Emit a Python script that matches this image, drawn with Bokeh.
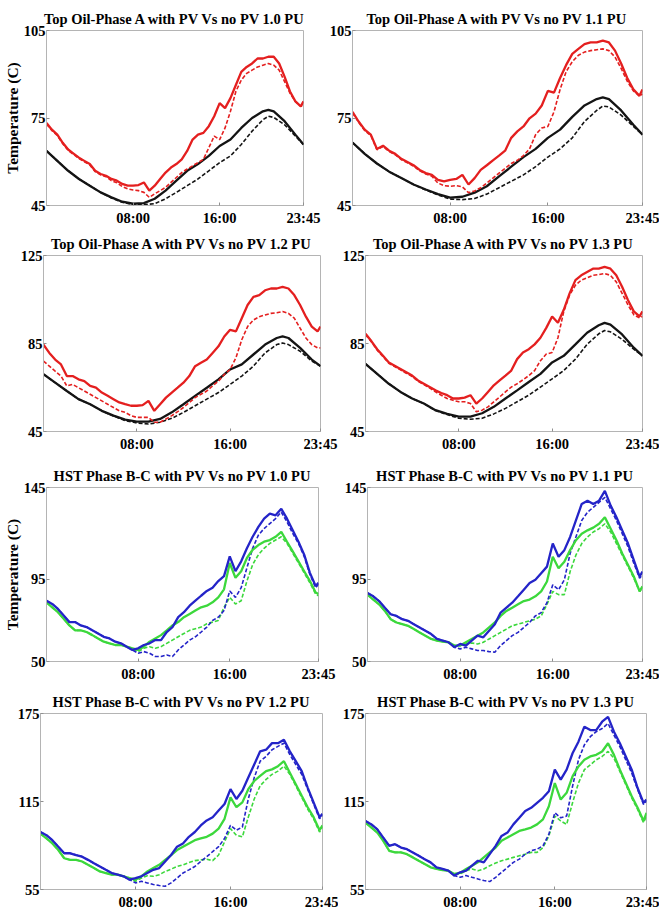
from bokeh.plotting import figure
from bokeh.layouts import column, row
from bokeh.models import Range1d, FixedTicker
from bokeh.embed import file_html
from bokeh.resources import INLINE

# ---------------- data ----------------
t_half = [i * 0.5 for i in range(48)] + [23.75]          # hours, 30-min readings
t_black = list(range(21)) + [20.5, 21, 22, 23, 23.75]     # hours, black (smooth) curves

x_ticks = [8, 16, 23.75]
x_tick_labels = ["08:00", "16:00", "23:45"]

titles = [
    "Top Oil-Phase A with PV Vs no PV 1.0 PU",
    "Top Oil-Phase A with PV Vs no PV 1.1 PU",
    "Top Oil-Phase A with PV Vs no PV 1.2 PU",
    "Top Oil-Phase A with PV Vs no PV 1.3 PU",
    "HST Phase B-C with PV Vs no PV 1.0 PU",
    "HST Phase B-C with PV Vs no PV 1.1 PU",
    "HST Phase B-C with PV Vs no PV 1.2 PU",
    "HST Phase B-C with PV Vs no PV 1.3 PU",
]
y_ticks = [
    [45, 75, 105], [45, 75, 105],
    [45, 85, 125], [45, 85, 125],
    [50, 95, 145], [50, 95, 145],
    [55, 115, 175], [55, 115, 175],
]
y_label = "Temperature (C)"

# Top oil, phase A -- red (30-min readings)
red_solid_10 = [73.3, 71.0, 69.3, 66.5, 64.2, 62.8, 61.4, 60.3, 59.2, 56.9,
                55.8, 55.2, 54.1, 53.5, 52.4, 51.8, 51.8, 52.0, 52.9, 50.1,
                51.8, 54.1, 56.3, 58.0, 59.2, 60.8, 63.7, 67.6, 69.3, 69.9,
                72.2, 75.6, 80.1, 78.4, 81.8, 86.3, 90.8, 92.5, 93.7, 95.4,
                95.4, 96.0, 96.0, 93.7, 89.2, 84.1, 80.7, 79.0, 80.7]
red_dash_10 = [73.0, 70.7, 69.0, 66.2, 63.9, 62.5, 61.1, 60.0, 58.9, 56.6,
               55.5, 54.9, 53.5, 52.8, 51.5, 50.7, 50.3, 50.1, 49.5, 47.8,
               49.0, 50.1, 51.2, 52.9, 54.6, 56.3, 57.5, 58.6, 59.7, 60.8,
               64.8, 68.8, 67.6, 71.6, 77.3, 84.1, 88.0, 90.3, 91.4, 92.5,
               93.1, 93.7, 93.1, 91.4, 87.5, 83.5, 80.7, 79.0, 79.6]
red_solid_11 = [77.1, 73.8, 71.0, 69.3, 64.4, 65.5, 63.8, 62.7, 61.0, 59.9,
                58.8, 57.2, 56.1, 55.5, 53.8, 53.3, 53.8, 54.1, 55.5, 52.2,
                54.4, 57.2, 58.8, 60.5, 62.1, 63.8, 68.2, 70.4, 72.1, 74.9,
                76.5, 79.3, 84.3, 83.7, 88.7, 93.2, 97.0, 98.7, 100.3, 100.9,
                100.9, 101.5, 100.9, 98.1, 93.7, 88.7, 84.8, 82.6, 84.8]
red_dash_11 = [76.8, 73.5, 70.7, 69.0, 64.1, 65.2, 63.5, 62.4, 60.7, 59.6,
               58.5, 56.9, 55.8, 55.0, 52.7, 51.8, 51.6, 51.8, 51.4, 49.4,
               50.0, 51.1, 52.7, 54.4, 56.1, 57.7, 59.4, 60.5, 62.1, 64.4,
               69.3, 71.6, 72.1, 77.1, 84.8, 90.9, 94.3, 96.5, 97.6, 98.1,
               98.4, 98.7, 98.1, 95.9, 92.0, 87.6, 84.3, 82.6, 83.2]
red_solid_12 = [84.5, 80.7, 77.7, 75.5, 70.2, 70.2, 68.7, 67.9, 65.7, 64.9,
                62.7, 61.2, 59.7, 58.2, 57.4, 56.7, 56.7, 57.0, 58.9, 54.4,
                57.4, 60.4, 62.7, 64.9, 67.2, 70.2, 74.7, 76.2, 77.7, 80.7,
                83.7, 88.2, 91.2, 90.5, 96.5, 102.5, 106.2, 107.0, 109.2, 110.0,
                110.0, 110.7, 110.0, 107.0, 102.5, 97.2, 92.7, 90.5, 92.7]
red_dash_12 = [77.0, 74.7, 72.4, 70.2, 65.7, 66.4, 64.9, 63.4, 61.9, 60.4,
               58.9, 57.4, 55.9, 54.4, 53.7, 52.2, 51.4, 51.4, 51.4, 49.2,
               49.2, 50.7, 52.2, 54.0, 55.9, 58.2, 60.4, 61.9, 63.4, 65.7,
               67.9, 70.9, 73.2, 78.5, 86.7, 92.7, 95.7, 97.2, 98.0, 98.7,
               99.0, 99.5, 98.7, 96.5, 92.0, 87.5, 84.5, 83.0, 83.0]
red_solid_13 = [89.4, 86.1, 82.4, 79.4, 76.4, 74.9, 73.4, 71.9, 70.4, 68.2,
                66.7, 65.2, 63.7, 62.5, 61.5, 60.0, 60.0, 60.4, 61.5, 57.7,
                60.0, 63.0, 66.0, 68.2, 70.4, 72.7, 77.9, 80.9, 82.4, 84.6,
                87.6, 92.1, 97.3, 94.4, 100.3, 107.8, 113.8, 116.0, 117.5, 119.0,
                119.0, 119.8, 119.0, 116.0, 110.8, 104.8, 99.6, 97.3, 99.6]
red_dash_13 = [89.0, 85.8, 82.0, 79.0, 76.0, 74.5, 73.0, 71.5, 70.0, 67.8,
               66.3, 64.8, 63.0, 61.5, 60.0, 59.2, 58.5, 58.5, 57.7, 54.0,
               54.7, 56.2, 58.5, 60.7, 63.0, 65.2, 66.7, 68.5, 70.4, 72.7,
               77.2, 80.2, 80.9, 87.6, 99.6, 107.0, 111.5, 113.8, 114.8, 116.0,
               116.3, 116.8, 116.0, 113.0, 107.8, 102.6, 98.1, 96.6, 97.3]

# Top oil, phase A -- black (hourly readings)
black_solid_10 = [63.7, 60.3, 56.9, 54.1, 51.8, 49.5, 47.8, 46.3, 45.6, 45.8,
                  47.3, 50.1, 53.5, 56.9, 59.2, 62.0, 65.4, 67.6, 71.6, 75.0,
                  77.3, 77.8, 77.3, 73.9, 69.3, 65.9]
black_dash_10 = [63.7, 60.3, 56.9, 54.1, 51.8, 49.5, 47.6, 46.1, 45.3, 45.3,
                 45.6, 47.3, 49.5, 51.8, 54.1, 56.9, 59.7, 62.0, 65.9, 70.5,
                 74.4, 75.6, 75.2, 72.7, 68.8, 65.9]
black_solid_11 = [66.6, 62.7, 59.4, 56.6, 54.4, 52.2, 50.5, 48.9, 47.7, 48.0,
                  49.4, 51.6, 55.0, 58.3, 61.6, 64.4, 68.2, 71.0, 75.4, 79.3,
                  81.5, 82.1, 81.5, 77.6, 72.7, 69.3]
black_dash_11 = [66.6, 62.7, 59.4, 56.6, 54.4, 52.2, 50.3, 48.6, 47.2, 47.0,
                 47.4, 48.9, 51.1, 53.3, 55.5, 58.3, 61.6, 64.4, 68.2, 73.8,
                 77.6, 79.1, 78.8, 76.0, 72.1, 69.3]
black_solid_12 = [71.0, 67.2, 63.4, 59.7, 57.4, 54.4, 52.2, 50.4, 49.5, 49.5,
                  50.7, 53.7, 57.4, 61.2, 64.9, 68.7, 73.2, 75.5, 80.0, 84.5,
                  87.5, 88.2, 87.5, 83.0, 77.7, 74.7]
black_dash_12 = [71.0, 67.2, 63.4, 59.7, 57.4, 54.4, 52.0, 50.0, 48.9, 48.4,
                 49.2, 51.0, 53.7, 56.7, 59.7, 62.7, 66.4, 70.2, 74.7, 80.7,
                 84.5, 85.2, 84.5, 81.5, 77.0, 74.7]
black_solid_13 = [75.7, 71.2, 66.7, 63.0, 60.0, 57.7, 54.7, 53.0, 51.8, 51.8,
                  53.3, 56.2, 60.0, 63.7, 67.5, 71.2, 76.4, 79.4, 84.6, 89.9,
                  93.3, 94.4, 93.6, 89.1, 83.1, 79.4]
black_dash_13 = [75.7, 71.2, 66.7, 63.0, 60.0, 57.7, 54.5, 52.7, 51.0, 50.6,
                 51.0, 53.0, 55.5, 58.5, 61.5, 65.2, 68.9, 72.7, 77.9, 84.6,
                 89.4, 90.9, 90.3, 86.9, 82.4, 79.4]

# Hot-spot temperature, phase B-C (30-min readings)
blue_solid_10 = [83.2, 81.4, 78.7, 75.1, 71.5, 71.5, 69.7, 68.8, 67.0, 65.3,
                 63.5, 62.6, 60.8, 59.9, 58.1, 56.3, 57.2, 59.0, 59.9, 61.7,
                 61.7, 66.1, 68.8, 74.2, 76.9, 80.5, 83.2, 85.9, 88.5, 90.3,
                 93.9, 96.6, 107.4, 99.3, 104.7, 111.8, 118.1, 123.5, 128.0, 130.7,
                 129.8, 133.4, 128.0, 121.7, 115.4, 108.3, 98.4, 91.2, 93.0]
blue_dash_10 = [83.2, 81.4, 78.7, 75.1, 71.5, 71.5, 69.7, 68.8, 67.0, 65.3,
                63.5, 62.6, 60.8, 59.9, 58.1, 56.3, 54.5, 55.4, 54.5, 52.7,
                52.7, 53.6, 52.7, 56.3, 59.0, 61.7, 63.5, 66.1, 68.8, 72.4,
                74.2, 77.8, 88.5, 85.0, 90.3, 101.1, 111.8, 119.0, 122.6, 125.3,
                128.0, 131.6, 126.2, 119.9, 114.5, 107.4, 97.5, 90.3, 92.1]
green_solid_10 = [82.3, 79.6, 76.9, 73.3, 69.7, 67.0, 67.0, 66.1, 64.4, 62.6,
                  60.8, 59.9, 59.0, 59.0, 58.1, 57.2, 56.3, 58.1, 60.8, 62.6,
                  64.4, 67.0, 69.7, 71.5, 74.2, 76.0, 77.8, 79.6, 80.5, 82.3,
                  85.0, 89.4, 103.8, 95.7, 99.3, 106.5, 111.0, 113.6, 115.4, 116.3,
                  118.1, 120.8, 115.4, 110.1, 104.7, 99.3, 93.9, 87.7, 86.8]
green_dash_10 = [82.3, 79.6, 76.9, 73.3, 69.7, 67.0, 67.0, 66.1, 64.4, 62.6,
                 60.8, 59.9, 59.0, 59.0, 58.1, 57.2, 55.4, 57.2, 58.1, 57.2,
                 58.1, 59.9, 61.7, 63.5, 65.3, 67.0, 67.9, 68.8, 70.6, 71.5,
                 72.4, 79.6, 85.0, 81.4, 83.2, 93.9, 102.9, 108.3, 111.8, 114.5,
                 116.3, 118.1, 114.5, 109.2, 103.8, 98.4, 93.0, 86.8, 85.9]
blue_solid_11 = [87.4, 85.6, 83.0, 79.4, 75.8, 74.9, 73.1, 72.2, 70.4, 68.6,
                 66.8, 65.0, 62.3, 61.4, 60.5, 57.8, 59.6, 58.7, 61.4, 64.1,
                 63.2, 66.8, 70.4, 76.7, 79.4, 82.1, 85.6, 89.2, 92.8, 94.6,
                 98.2, 101.8, 114.4, 107.2, 110.8, 118.0, 127.0, 136.0, 137.8, 136.0,
                 137.8, 143.2, 135.1, 128.8, 121.6, 114.4, 105.4, 96.4, 99.1]
blue_dash_11 = [87.4, 85.6, 83.0, 79.4, 75.8, 74.9, 73.1, 72.2, 70.4, 68.6,
                66.8, 65.0, 62.3, 61.4, 60.5, 57.8, 56.9, 57.8, 56.9, 56.0,
                56.0, 55.4, 55.1, 58.7, 61.4, 64.1, 65.9, 68.6, 71.3, 74.9,
                76.7, 82.1, 91.9, 89.2, 94.6, 109.0, 118.0, 127.0, 131.5, 134.2,
                136.9, 139.6, 133.3, 127.0, 119.8, 112.6, 103.6, 95.5, 97.3]
green_solid_11 = [86.5, 83.8, 81.2, 77.6, 73.1, 71.3, 70.4, 69.5, 67.7, 65.9,
                  64.1, 62.3, 61.4, 60.8, 60.5, 58.7, 58.7, 60.5, 62.3, 64.1,
                  65.9, 68.6, 71.3, 74.9, 77.6, 79.4, 81.2, 83.0, 83.8, 85.6,
                  88.3, 93.7, 107.2, 100.9, 104.5, 110.8, 116.2, 119.8, 121.6, 123.1,
                  125.2, 128.8, 122.5, 116.2, 109.0, 102.7, 96.4, 88.3, 91.0]
green_dash_11 = [86.5, 83.8, 81.2, 77.6, 73.1, 71.3, 70.4, 69.5, 67.7, 65.9,
                 64.1, 62.3, 61.4, 60.8, 60.5, 58.7, 58.7, 59.6, 60.1, 59.6,
                 60.5, 62.3, 64.1, 65.9, 67.7, 69.5, 70.4, 71.3, 72.2, 73.1,
                 74.9, 81.2, 88.3, 86.5, 86.5, 99.1, 108.1, 114.4, 118.0, 120.7,
                 122.5, 125.2, 120.7, 114.4, 108.1, 101.8, 95.5, 88.3, 90.1]
blue_solid_12 = [94.2, 92.0, 88.6, 84.2, 79.7, 79.7, 78.5, 77.4, 75.2, 72.9,
                 70.7, 68.4, 66.2, 65.1, 64.0, 61.7, 62.8, 64.0, 66.2, 68.4,
                 69.6, 74.1, 78.5, 84.2, 86.4, 90.9, 94.2, 98.7, 102.1, 104.3,
                 108.8, 113.3, 123.4, 116.7, 122.3, 131.3, 140.2, 149.2, 150.3, 154.8,
                 154.8, 157.1, 149.2, 142.5, 135.7, 124.5, 114.4, 104.3, 106.6]
blue_dash_12 = [94.2, 92.0, 88.6, 84.2, 79.7, 79.7, 78.5, 77.4, 75.2, 72.9,
                70.7, 68.4, 66.2, 65.1, 64.0, 61.7, 59.5, 60.6, 59.5, 58.4,
                57.7, 57.2, 59.5, 62.8, 66.2, 68.4, 70.7, 74.1, 77.4, 80.8,
                84.2, 89.8, 98.7, 95.4, 97.6, 116.7, 131.3, 142.5, 145.8, 150.3,
                152.6, 154.8, 147.0, 140.2, 133.5, 123.4, 113.3, 103.2, 105.5]
green_solid_12 = [93.1, 89.8, 86.4, 81.9, 76.3, 75.2, 75.2, 74.1, 71.8, 69.6,
                  67.3, 66.2, 65.1, 65.1, 64.0, 62.8, 61.7, 64.0, 67.3, 69.6,
                  71.8, 75.2, 78.5, 81.9, 84.2, 86.4, 88.6, 89.8, 90.9, 93.1,
                  96.5, 103.2, 117.8, 111.1, 114.4, 123.4, 129.0, 132.4, 135.7, 136.9,
                  139.1, 142.5, 134.6, 126.8, 118.9, 111.1, 104.3, 95.4, 98.7]
green_dash_12 = [93.1, 89.8, 86.4, 81.9, 76.3, 75.2, 75.2, 74.1, 71.8, 69.6,
                 67.3, 66.2, 65.1, 65.1, 64.0, 62.8, 60.6, 62.8, 64.4, 64.0,
                 65.1, 67.3, 68.9, 70.7, 71.8, 73.4, 74.7, 75.2, 75.6, 74.7,
                 78.5, 87.5, 96.5, 92.0, 90.9, 104.3, 116.7, 125.7, 130.1, 133.5,
                 135.7, 139.1, 133.5, 125.7, 117.8, 109.9, 103.2, 94.2, 97.6]
blue_solid_13 = [101.7, 99.4, 96.0, 90.4, 84.8, 85.9, 83.6, 82.5, 80.3, 78.0,
                 75.7, 73.5, 70.1, 69.0, 67.8, 64.5, 66.7, 67.8, 71.2, 74.6,
                 73.5, 79.1, 84.8, 91.5, 93.8, 99.4, 103.9, 108.5, 110.7, 114.1,
                 117.5, 122.0, 136.7, 129.9, 136.7, 147.9, 155.8, 166.0, 163.7, 163.7,
                 169.4, 172.7, 162.6, 154.7, 145.7, 136.7, 124.2, 114.1, 116.3]
blue_dash_13 = [101.7, 99.4, 96.0, 90.4, 84.8, 85.9, 83.6, 82.5, 80.3, 78.0,
                75.7, 73.5, 70.1, 69.0, 67.8, 64.5, 63.3, 64.5, 63.3, 62.2,
                61.1, 60.4, 63.3, 66.7, 70.1, 73.5, 75.7, 79.1, 81.4, 82.5,
                84.8, 92.7, 107.3, 103.9, 105.1, 125.4, 143.4, 153.6, 159.2, 162.6,
                164.8, 168.2, 160.3, 152.4, 143.4, 134.4, 123.1, 113.0, 115.2]
green_solid_13 = [100.6, 97.2, 93.8, 88.2, 81.4, 80.3, 80.3, 79.1, 76.9, 74.6,
                  72.4, 70.1, 69.0, 68.3, 67.8, 65.6, 66.3, 69.0, 71.2, 73.5,
                  76.9, 80.3, 83.6, 88.2, 90.4, 92.7, 94.9, 96.0, 97.2, 99.4,
                  102.8, 111.8, 127.6, 116.3, 120.9, 132.1, 138.9, 143.4, 145.7, 146.8,
                  149.1, 154.7, 146.8, 136.7, 127.6, 118.6, 110.7, 101.7, 107.3]
green_dash_13 = [100.6, 97.2, 93.8, 88.2, 81.4, 80.3, 80.3, 79.1, 76.9, 74.6,
                 72.4, 70.1, 69.0, 68.3, 67.8, 65.6, 65.6, 67.8, 69.0, 67.8,
                 69.0, 71.2, 73.0, 74.6, 75.7, 76.9, 78.0, 79.1, 80.3, 80.3,
                 83.6, 91.5, 105.1, 101.7, 99.4, 114.1, 127.6, 136.7, 140.0, 143.4,
                 145.7, 149.1, 144.5, 135.5, 126.5, 117.5, 109.6, 100.6, 105.1]

# ---------------- styling / layout ----------------
RED = "#e41f1f"
BLACK = "#141414"
BLUE = "#2424c8"
GREEN = "#3cd83c"
FONT = "Liberation Serif"

series = [
    [(t_black, black_dash_10, BLACK, True), (t_black, black_solid_10, BLACK, False),
     (t_half, red_dash_10, RED, True), (t_half, red_solid_10, RED, False)],
    [(t_black, black_dash_11, BLACK, True), (t_black, black_solid_11, BLACK, False),
     (t_half, red_dash_11, RED, True), (t_half, red_solid_11, RED, False)],
    [(t_black, black_dash_12, BLACK, True), (t_black, black_solid_12, BLACK, False),
     (t_half, red_dash_12, RED, True), (t_half, red_solid_12, RED, False)],
    [(t_black, black_dash_13, BLACK, True), (t_black, black_solid_13, BLACK, False),
     (t_half, red_dash_13, RED, True), (t_half, red_solid_13, RED, False)],
    [(t_half, green_dash_10, GREEN, True), (t_half, blue_dash_10, BLUE, True),
     (t_half, green_solid_10, GREEN, False), (t_half, blue_solid_10, BLUE, False)],
    [(t_half, green_dash_11, GREEN, True), (t_half, blue_dash_11, BLUE, True),
     (t_half, green_solid_11, GREEN, False), (t_half, blue_solid_11, BLUE, False)],
    [(t_half, green_dash_12, GREEN, True), (t_half, blue_dash_12, BLUE, True),
     (t_half, green_solid_12, GREEN, False), (t_half, blue_solid_12, BLUE, False)],
    [(t_half, green_dash_13, GREEN, True), (t_half, blue_dash_13, BLUE, True),
     (t_half, green_solid_13, GREEN, False), (t_half, blue_solid_13, BLUE, False)],
]

# (fig width, fig height, border left, right, top, bottom)
geom = [
    (326, 228, 43, 23, 29, 23), (333, 228, 24, 17, 30, 19),
    (338, 228, 43, 18, 25, 25), (321, 228, 27, 17, 27, 23),
    (338, 228, 42, 20, 29, 22), (321, 228, 29, 17, 31, 21),
    (338, 228, 40, 16, 28, 22), (321, 228, 27, 13, 29, 21),
]
show_label = [True, False, False, False, True, False, False, False]

figs = []
for i in range(8):
    w, h, bl, br, bt, bb = geom[i]
    yt = y_ticks[i]
    p = figure(width=w, height=h, output_backend="svg", toolbar_location=None,
               x_range=Range1d(0, 23.75), y_range=Range1d(yt[0], yt[-1]),
               min_border_left=bl, min_border_right=br,
               min_border_top=bt, min_border_bottom=bb)
    p.title.text = titles[i]
    p.title.align = "center"
    p.title.text_font = FONT
    p.title.text_font_style = "bold"
    p.title.text_font_size = "14.5px"
    p.title.text_color = "black"
    p.title.standoff = 8
    p.xgrid.visible = False
    p.ygrid.visible = False
    p.outline_line_color = "#b4b4b4"
    p.background_fill_color = "white"
    p.border_fill_color = "white"

    p.xaxis.ticker = FixedTicker(ticks=x_ticks)
    p.xaxis.major_label_overrides = {k: v for k, v in zip(x_ticks, x_tick_labels)}
    p.yaxis.ticker = FixedTicker(ticks=yt)
    for ax in (p.xaxis[0], p.yaxis[0]):
        ax.axis_line_color = "#b4b4b4"
        ax.major_tick_line_color = "#909090"
        ax.major_tick_in = 3
        ax.major_tick_out = 0
        ax.minor_tick_line_color = None
        ax.major_label_text_font = FONT
        ax.major_label_text_font_style = "bold"
        ax.major_label_text_font_size = "14.5px"
        ax.major_label_text_color = "black"
    p.xaxis.major_label_standoff = 4
    p.yaxis.major_label_standoff = 1
    if show_label[i]:
        p.yaxis.axis_label = y_label
        p.yaxis.axis_label_text_font = FONT
        p.yaxis.axis_label_text_font_style = "bold"
        p.yaxis.axis_label_text_font_size = "15.5px"
        p.yaxis.axis_label_text_color = "black"
        p.yaxis.axis_label_standoff = 0

    for xs, ys, col, dashed in series[i]:
        if dashed:
            p.line(xs, ys, line_color=col, line_width=1.6, line_dash="4 2")
        else:
            p.line(xs, ys, line_color=col, line_width=2.3)
    figs.append(p)

layout = column(row(figs[0], figs[1]), row(figs[2], figs[3]),
                row(figs[4], figs[5]), row(figs[6], figs[7]))

open("out.html", "w").write(file_html(layout, INLINE))
